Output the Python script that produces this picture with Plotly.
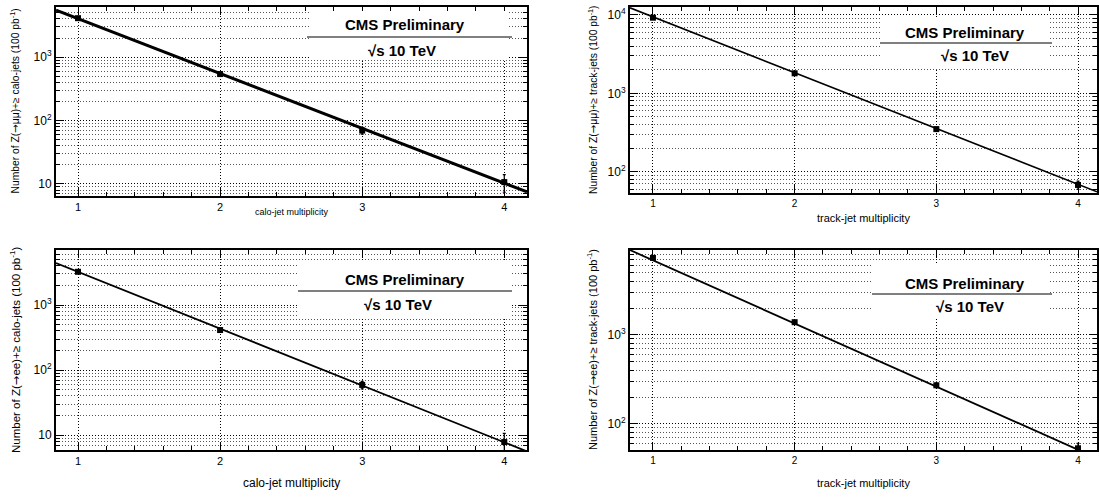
import plotly.graph_objects as go

W, H = 1099, 498

# ---------------- data ----------------
mult = [1, 2, 3, 4]

mumu_calo = [4110, 540, 69.5, 10.7]
mumu_calo_err = [64, 23, 8.3, 3.3]
mumu_calo_fit_x = [0.845, 4.16]
mumu_calo_fit_y = [5500, 7.5]

mumu_track = [9200, 1800, 350, 68]
mumu_track_err = [96, 42, 19, 8.2]
mumu_track_fit_x = [0.838, 4.134]
mumu_track_fit_y = [12300, 55.6]

ee_calo = [3240, 412, 59, 7.8]
ee_calo_err = [57, 20, 7.7, 2.8]
ee_calo_fit_x = [0.845, 4.16]
ee_calo_fit_y = [4420, 5.6]

ee_track = [7350, 1390, 271, 53]
ee_track_err = [86, 37, 16.5, 7.3]
ee_track_fit_x = [0.838, 4.134]
ee_track_fit_y = [9000, 41]

x_ticks = [1, 2, 3, 4]
x_tick_text = ["1", "2", "3", "4"]
y_ticks_calo = [10, 100, 1000]
y_tick_text_calo = ["10", "10<sup>2</sup>", "10<sup>3</sup>"]
y_ticks_track = [100, 1000, 10000]
y_tick_text_track = ["10<sup>2</sup>", "10<sup>3</sup>", "10<sup>4</sup>"]

ARROW = "<span style='font-family:DejaVu Sans'>\u2192</span>"
y_titles = [
    "Number of Z(" + ARROW + "\u03bc\u03bc)+\u2265 calo-jets (100 pb<sup>-1</sup>)",
    "Number of Z(" + ARROW + "\u03bc\u03bc)+\u2265 track-jets (100 pb<sup>-1</sup>)",
    "Number of Z(" + ARROW + "ee)+\u2265 calo-jets (100 pb<sup>-1</sup>)",
    "Number of Z(" + ARROW + "ee)+\u2265 track-jets (100 pb<sup>-1</sup>)",
]
x_titles = ["calo-jet multiplicity", "track-jet multiplicity",
            "calo-jet multiplicity", "track-jet multiplicity"]

minor_vals = [k * 10 ** n for n in range(0, 5) for k in (2, 3, 4, 5, 6, 7, 8, 9)]

FONT = "Liberation Sans, Arial, Helvetica, sans-serif"
DOT = "1px,2px"

# ---------------- layout helpers (pixels -> paper) ----------------
def px(x):
    return x / W

def py(y):
    return 1 - y / H

panels = [
    dict(x=(56, 527), y=(7, 196), xr=[0.845, 4.16], yr=[0.81, 3.79],
         data=mumu_calo, err=mumu_calo_err, fx=mumu_calo_fit_x, fy=mumu_calo_fit_y,
         lw=3, yt=y_ticks_calo, ytt=y_tick_text_calo, xtf=11, xtitf=9, ytitf=10.3,
         ytitx=14, xtity=212, box=(310, 507, 11, 60), cms=(405, 25), line_y=37,
         line_x=(307, 512), rts=(402, 50)),
    dict(x=(630, 1097), y=(7, 193), xr=[0.838, 4.134], yr=[1.73, 4.10],
         data=mumu_track, err=mumu_track_err, fx=mumu_track_fit_x, fy=mumu_track_fit_y,
         lw=1.6, yt=y_ticks_track, ytt=y_tick_text_track, xtf=10, xtitf=11, ytitf=10.3,
         ytitx=592, xtity=218, box=(880, 1050, 17, 68), cms=(965, 32), line_y=43,
         line_x=(880, 1052), rts=(975, 55)),
    dict(x=(56, 527), y=(250, 450), xr=[0.845, 4.16], yr=[0.77, 3.846],
         data=ee_calo, err=ee_calo_err, fx=ee_calo_fit_x, fy=ee_calo_fit_y,
         lw=1.8, yt=y_ticks_calo, ytt=y_tick_text_calo, xtf=11, xtitf=12, ytitf=11.5,
         ytitx=15, xtity=483, box=(298, 512, 262, 318), cms=(405, 279), line_y=291,
         line_x=(298, 512), rts=(398, 304)),
    dict(x=(630, 1097), y=(250, 450), xr=[0.838, 4.134], yr=[1.705, 3.955],
         data=ee_track, err=ee_track_err, fx=ee_track_fit_x, fy=ee_track_fit_y,
         lw=1.8, yt=y_ticks_track, ytt=y_tick_text_track, xtf=10, xtitf=11, ytitf=11,
         ytitx=592, xtity=483, box=(872, 1050, 265, 318), cms=(965, 283), line_y=294,
         line_x=(872, 1052), rts=(970, 306)),
]

fig = go.Figure()
shapes = []
annotations = []

for i, p in enumerate(panels):
    n = i + 1
    xa = "x" if n == 1 else f"x{n}"
    ya = "y" if n == 1 else f"y{n}"
    xkey = "xaxis" if n == 1 else f"xaxis{n}"
    ykey = "yaxis" if n == 1 else f"yaxis{n}"

    fig.add_trace(go.Scatter(x=p["fx"], y=p["fy"], mode="lines",
                             line=dict(color="black", width=p["lw"]),
                             xaxis=xa, yaxis=ya, showlegend=False, hoverinfo="skip"))
    fig.add_trace(go.Scatter(x=mult, y=p["data"], mode="markers",
                             marker=dict(symbol="square", size=6, color="black"),
                             error_y=dict(type="data", array=p["err"], color="black",
                                          thickness=1.2, width=1.5),
                             xaxis=xa, yaxis=ya, showlegend=False, cliponaxis=False))

    fig.layout[xkey] = dict(
        domain=[px(p["x"][0]), px(p["x"][1])], range=p["xr"], anchor=ya,
        tickvals=x_ticks, ticktext=x_tick_text, ticks="inside", ticklen=8,
        tickcolor="black", showline=True, mirror="ticks", linewidth=2, linecolor="black",
        showgrid=True, gridcolor="black", griddash=DOT, gridwidth=1,
        zeroline=False, tickfont=dict(size=p["xtf"], color="black", family=FONT),
        minor=dict(tickvals=[1.2, 1.4, 1.6, 1.8, 2.2, 2.4, 2.6, 2.8, 3.2, 3.4, 3.6, 3.8, 4.2],
                   ticks="inside", ticklen=4, tickcolor="black", showgrid=False),
    )
    fig.layout[ykey] = dict(
        domain=[py(p["y"][1]), py(p["y"][0])], type="log", range=p["yr"], anchor=xa,
        tickvals=p["yt"], ticktext=p["ytt"], ticks="inside", ticklen=8,
        tickcolor="black", showline=True, mirror="ticks", linewidth=2, linecolor="black",
        showgrid=True, gridcolor="black", griddash=DOT, gridwidth=1,
        zeroline=False, tickfont=dict(size=12, color="black", family=FONT),
        minor=dict(tickvals=minor_vals, ticks="inside", ticklen=4, tickcolor="black",
                   showgrid=True, gridcolor="#555555", griddash=DOT, gridwidth=1),
    )

    bx0, bx1, by0, by1 = p["box"]
    shapes.append(dict(type="rect", xref="paper", yref="paper",
                       x0=px(bx0), x1=px(bx1), y0=py(by1), y1=py(by0),
                       fillcolor="white", line=dict(width=0), layer="above"))
    shapes.append(dict(type="line", xref="paper", yref="paper",
                       x0=px(p["line_x"][0]), x1=px(p["line_x"][1]),
                       y0=py(p["line_y"]), y1=py(p["line_y"]),
                       line=dict(color="black", width=1), layer="above"))
    annotations.append(dict(xref="paper", yref="paper", x=px(p["cms"][0]), y=py(p["cms"][1]),
                            text="<b>CMS Preliminary</b>", showarrow=False,
                            xanchor="center", yanchor="middle",
                            font=dict(size=15, color="black", family=FONT)))
    annotations.append(dict(xref="paper", yref="paper", x=px(p["rts"][0]), y=py(p["rts"][1]),
                            text="<b>\u221as 10 TeV</b>",
                            showarrow=False, xanchor="center", yanchor="middle",
                            font=dict(size=15, color="black", family=FONT)))
    annotations.append(dict(xref="paper", yref="paper",
                            x=px((p["x"][0] + p["x"][1]) / 2), y=py(p["xtity"]),
                            text=x_titles[i], showarrow=False,
                            xanchor="center", yanchor="middle",
                            font=dict(size=p["xtitf"], color="black", family=FONT)))
    annotations.append(dict(xref="paper", yref="paper",
                            x=px(p["ytitx"]), y=py((p["y"][0] + p["y"][1]) / 2),
                            text=y_titles[i], showarrow=False, textangle=-90,
                            xanchor="center", yanchor="middle",
                            font=dict(size=p["ytitf"], color="black", family=FONT)))

fig.update_layout(
    width=W, height=H, margin=dict(l=0, r=0, t=0, b=0),
    paper_bgcolor="white", plot_bgcolor="white",
    shapes=shapes, annotations=annotations, showlegend=False,
    font=dict(family=FONT, color="black"),
)

fig.write_html("out.html")
